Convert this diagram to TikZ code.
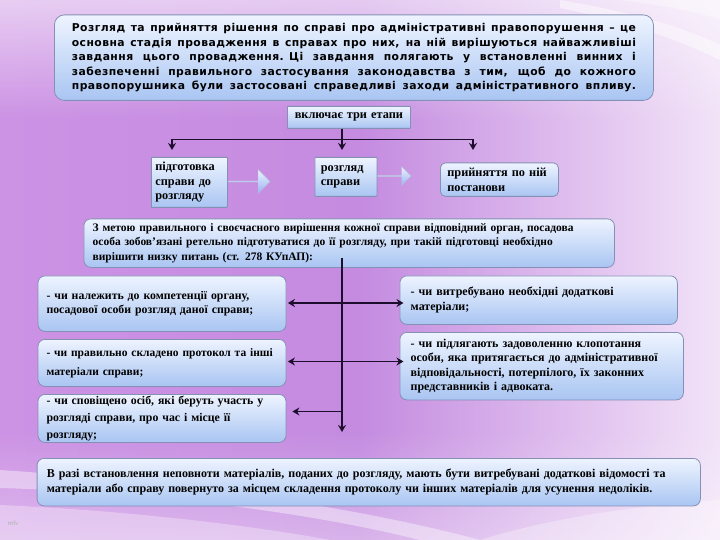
\documentclass[tikz,border=0pt]{standalone}
\usepackage{fontspec}
\setmainfont{Liberation Serif}
\newfontfamily\topfont[LetterSpace=4]{DejaVu Sans}
\usetikzlibrary{arrows.meta,shapes.arrows,calc,fadings}
\definecolor{bgL}{HTML}{CC92E4}
\definecolor{bgM}{HTML}{C48BE0}
\definecolor{bgR}{HTML}{F2E3F8}
\definecolor{boxtop}{HTML}{EEF4FF}
\definecolor{boxbot}{HTML}{A9C5F2}
\definecolor{boxline}{HTML}{8590B5}
\definecolor{conn}{HTML}{1E0E2E}
\newcommand{\fullline}[1]{\makebox[564pt][s]{\spaceskip=0.25em plus 1fil\relax #1}}
\tikzset{
  box/.style={draw=boxline, line width=0.8pt, rounded corners=7pt, top color=boxtop, bottom color=boxbot,
    anchor=north west, align=left, inner ysep=0pt, font=\bfseries\fontsize{11.5}{14.5}\selectfont},
  sqbox/.style={box, rounded corners=0.5pt, font=\bfseries\fontsize{12.3}{14.5}\selectfont},
  conline/.style={draw=conn, line width=1.8pt},
  tip/.style={-{Stealth[length=7pt,width=8pt]}},
  blockarrow/.style={single arrow, draw=boxline!60, line width=0.4pt, top color=boxtop, bottom color=boxbot!90!blue, anchor=west,
    inner sep=0pt}
}
\begin{document}
\begin{tikzpicture}[x=1pt,y=-1pt]
\useasboundingbox (0,0) rectangle (720,540);
% background
\shade[left color=bgL, right color=bgR, middle color=bgM] (0,0) rectangle (720,540);
\fill[white, opacity=0.55, path fading=south] (0,0) rectangle (720,120);
\fill[white, opacity=0.35, path fading=north] (0,430) rectangle (720,540);
\fill[white, opacity=0.45] (560,0) .. controls (620,10) and (680,25) .. (720,45) -- (720,60) .. controls (670,35) and (610,18) .. (560,8) -- cycle;
\fill[white, opacity=0.35] (620,0) .. controls (660,5) and (700,12) .. (720,20) -- (720,0) -- cycle;
\fill[white, opacity=0.4] (0,470) .. controls (150,480) and (330,500) .. (480,540) -- (420,540) .. controls (300,510) and (140,492) .. (0,488) -- cycle;
\fill[white, opacity=0.3] (0,505) .. controls (120,510) and (250,525) .. (330,540) -- (0,540) -- cycle;
\fill[white, opacity=0.3] (480,540) .. controls (560,515) and (650,505) .. (720,500) -- (720,540) -- cycle;

% top box
\node[box, rounded corners=10pt, inner xsep=17.5pt, text width=564pt, minimum width=599pt, minimum height=85.5pt,
  font=\topfont\bfseries\fontsize{10.8}{14.5}\selectfont] (top) at (54,14.5) {%
\fullline{Розгляд та прийняття рішення по справі про адміністративні правопорушення – це}\\
\fullline{основна стадія провадження в справах про них, на ній вирішуються найважливіші}\\
\fullline{завдання цього провадження. Ці завдання полягають у встановленні винних і}\\
\fullline{забезпеченні правильного застосування законодавства з тим, щоб до кожного}\\
\fullline{правопорушника були застосовані справедливі заходи адміністративного впливу.}};

% stages
\node[sqbox, align=center, inner xsep=1pt, text width=121pt, minimum width=123pt, minimum height=22pt] (inc) at (287,106) {включає три етапи};
\node[sqbox, inner xsep=4pt, text width=68pt, minimum width=76pt, minimum height=50pt] (s1) at (151,157) {підготовка\\справи до\\розгляду};
\node[sqbox, inner xsep=6pt, text width=50pt, minimum width=62pt, minimum height=39pt] (s2) at (314.5,157) {розгляд\\справи};
\node[box, rounded corners=5pt, inner xsep=7pt, text width=104pt, minimum width=118pt, minimum height=33.5pt,
  font=\bfseries\fontsize{12.3}{14.5}\selectfont] (s3) at (440,162.5) {прийняття по ній\\постанови};

\node[blockarrow, minimum height=42pt, minimum width=24pt, single arrow head extend=4.5pt] (ba1) at (s1.east |- 0,181.5) {};
\node[blockarrow, minimum height=33.5pt, minimum width=19pt, single arrow head extend=3.5pt] (ba2) at (s2.east |- 0,176) {};

\coordinate (h1) at (172,139.5);
\coordinate (h2) at (342,139.5);
\coordinate (h3) at (473,139.5);
\coordinate (t1) at (172,150);
\coordinate (t2) at (342,150);
\coordinate (t3) at (473,150);
\draw[conline] (h1) -- (h3);
\draw[conline, tip] (inc.south -| h2) -- (t2);
\draw[conline, tip] (h1) -- (t1);
\draw[conline, tip] (h3) -- (t3);

% big box
\node[box, inner xsep=8.5pt, text width=513pt, minimum width=530.5pt, minimum height=48.5pt] (mid) at (83.5,218.5) {%
З метою правильного і своєчасного вирішення кожної справи відповідний орган, посадова\\
особа зобов'язані ретельно підготуватися до її розгляду, при такій підготовці необхідно\\
вирішити низку питань (ст. 278 КУпАП):};

% left boxes
\node[box, inner xsep=8.4pt, text width=231pt, minimum width=248pt, minimum height=55.5pt,
  font=\bfseries\fontsize{11.8}{14.5}\selectfont] (l1) at (37.6,275.5) {%
- чи належить до компетенції органу,\\посадової особи розгляд даної справи;};
\node[box, inner xsep=8.4pt, text width=231pt, minimum width=248pt, minimum height=47pt,
  font=\bfseries\fontsize{11.5}{19}\selectfont] (l2) at (37.6,339) {%
- чи правильно складено протокол та інші\\матеріали справи;};
\node[box, inner xsep=8.4pt, text width=231pt, minimum width=248pt, minimum height=48pt,
  font=\bfseries\fontsize{11.8}{17}\selectfont] (l3) at (37.6,394) {%
- чи сповіщено осіб, які беруть участь у\\розгляді справи, про час і місце її\\розгляду;};

% right boxes
\node[box, inner xsep=10.5pt, text width=256pt, minimum width=277.5pt, minimum height=48.5pt,
  font=\bfseries\fontsize{12}{14.5}\selectfont] (r1) at (399.5,275.5) {%
- чи витребувано необхідні додаткові\\матеріали;\\[4pt]};
\node[box, inner xsep=10.5pt, text width=262pt, minimum width=283.5pt, minimum height=67.5pt,
  font=\bfseries\fontsize{12}{14.5}\selectfont] (r2) at (399.5,332) {%
- чи підлягають задоволенню клопотання\\особи, яка притягається до адміністративної\\відповідальності, потерпілого, їх законних\\представників і адвоката.};

% bottom box
\node[box, inner xsep=9.3pt, text width=644pt, minimum width=663.3pt, minimum height=47.5pt,
  font=\bfseries\fontsize{12}{14.5}\selectfont] (bot) at (36.7,458) {%
В разі встановлення неповноти матеріалів, поданих до розгляду, мають бути витребувані додаткові відомості та\\
матеріали або справу повернуто за місцем складення протоколу чи інших матеріалів для усунення недоліків.};

% central connectors
\coordinate (vtop) at (342,258);
\coordinate (vbot) at (342,432);
\coordinate (j3) at (342,411.5);
\draw[conline, tip] (vtop) -- (vbot);
\draw[conline, {Stealth[length=7pt,width=8pt]}-{Stealth[length=7pt,width=8pt]}] ([xshift=1.5pt]l1.east |- 0,303) -- ([xshift=4pt]r1.west |- 0,303);
\draw[conline, {Stealth[length=7pt,width=8pt]}-{Stealth[length=7pt,width=8pt]}] ([xshift=1.5pt]l2.east |- 0,361.5) -- ([xshift=4pt]r2.west |- 0,361.5);
\draw[conline, tip] (j3) -- ([xshift=6pt]l3.east |- j3);

\node[text=gray!60, font=\sffamily\fontsize{7}{8}\selectfont, anchor=west] (mlv) at (4,523) {mlv};
\end{tikzpicture}
\end{document}
